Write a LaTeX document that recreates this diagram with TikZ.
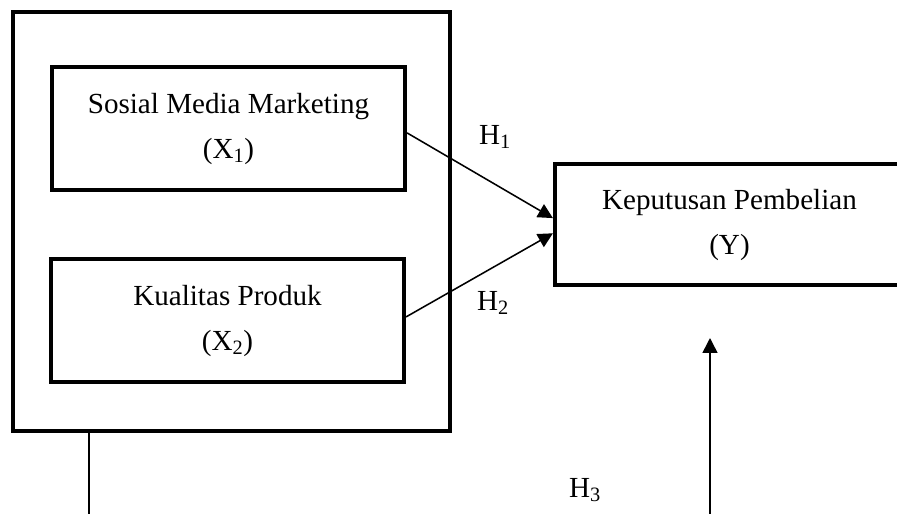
\documentclass[tikz,border=0pt]{standalone}
\usepackage{fontspec}
\setmainfont{Liberation Serif}
\usetikzlibrary{arrows.meta,positioning}

\begin{document}
\begin{tikzpicture}[
        x=0.025cm, y=-0.025cm,
        groupbox/.style={rectangle, draw=black, line width=2.9pt, minimum width=10.925cm, minimum height=10.475cm, inner sep=0pt},
        varbox/.style={rectangle, draw=black, line width=2.9pt, minimum width=8.825cm, minimum height=3.075cm, align=center, inner sep=0pt, font=\fontsize{20.7}{32}\selectfont},
        hyplabel/.style={font=\fontsize{20.7}{25}\selectfont, inner sep=0pt},
        arr/.style={-{Triangle[length=10.5pt, width=10.5pt]}, line width=1.1pt},
    ]
        \clip (0,0) rectangle (897,514);

        % Group of independent variables
        \node[groupbox] (grp) at (231.5,221.5) {};
        \node[varbox] (smm) at (228.5,128.5) {Sosial Media Marketing\\(X\textsubscript{1})};
        \node[varbox] (kp) at (227.5,320.5) {Kualitas Produk\\(X\textsubscript{2})};

        % Dependent variable (runs past the right edge)
        \node[varbox, minimum width=8.725cm, minimum height=3.025cm] (kpb) at (729.5,224.5) {Keputusan Pembelian\\(Y)};

        % Partial effects
        \draw[arr] ([yshift=-0.11cm]smm.east) -- ([yshift=0.16cm]kpb.west);
        \draw[arr] ([yshift=0.09cm]kp.east) -- ([yshift=-0.22cm]kpb.west);

        % Joint effect
        \coordinate (down) at (89,540);
        \coordinate (up) at (710,540);
        \coordinate (tip) at (710,338);
        \draw[arr] (grp.south -| down) -- (down) -- (up) -- (tip);

        % Labels
        \node[hyplabel] (h1) at (495,137) {H\textsubscript{1}};
        \node[hyplabel] (h2) at (493,303) {H\textsubscript{2}};
        \node[hyplabel] (h3) at (585,490) {H\textsubscript{3}};
    \end{tikzpicture}
\end{document}
